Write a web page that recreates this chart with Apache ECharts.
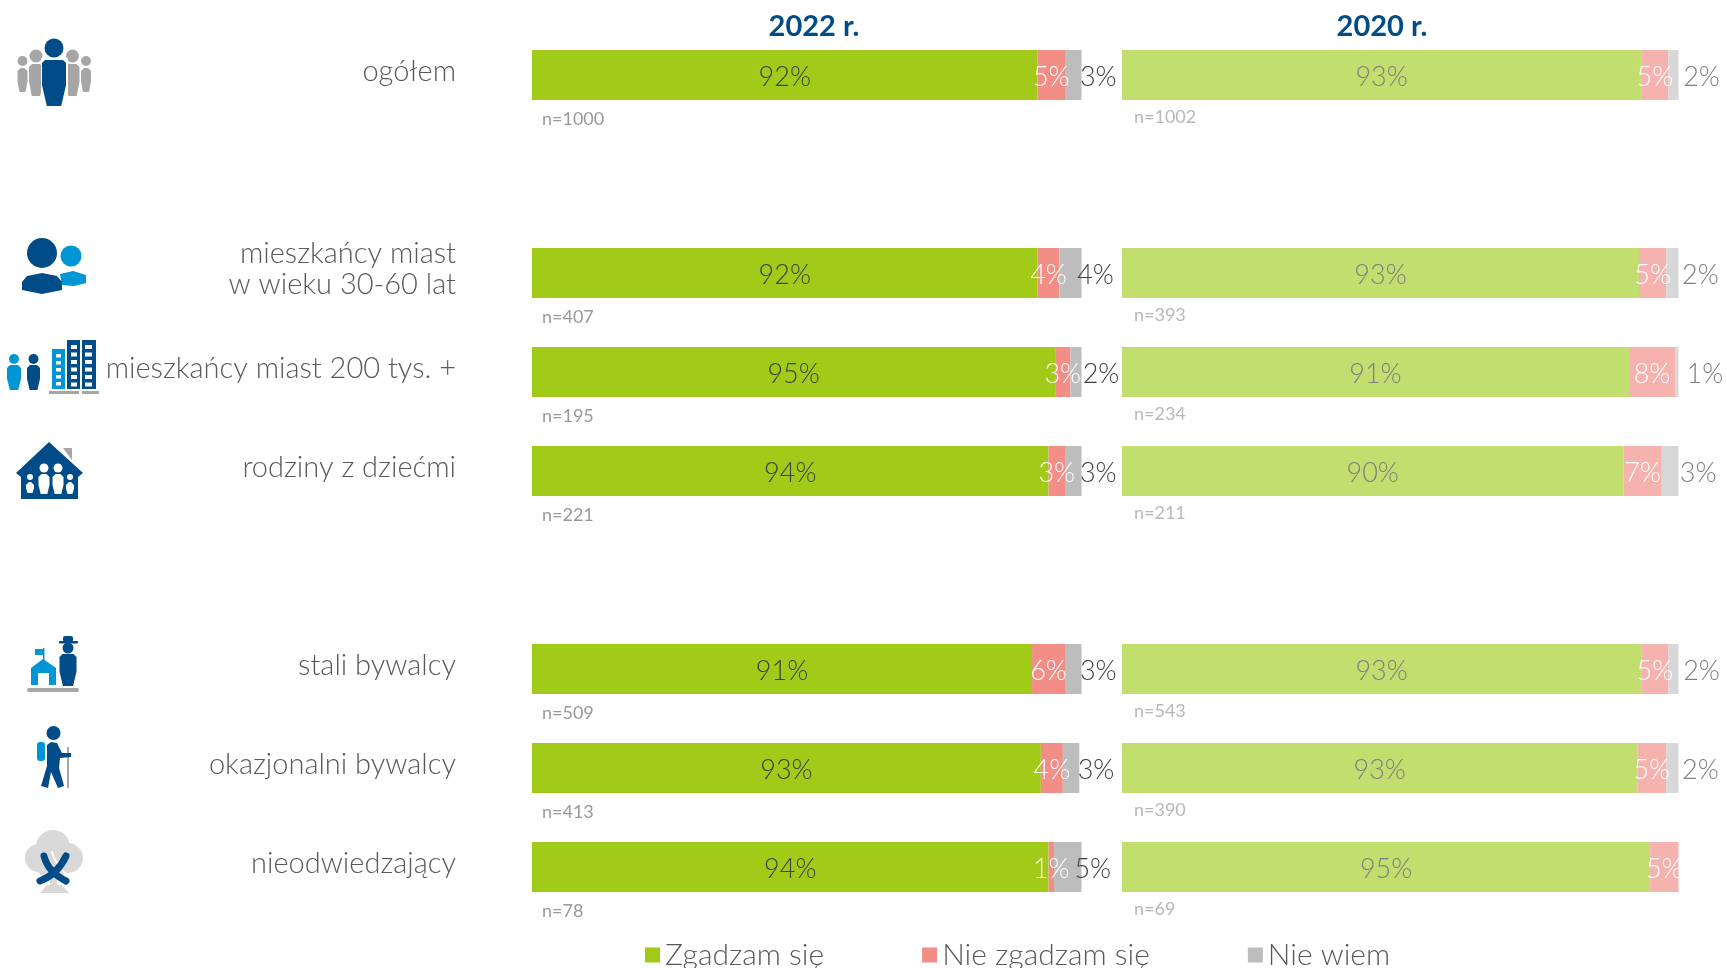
<!DOCTYPE html>
<html>
<head>
<meta charset="utf-8">
<title>2022 r. / 2020 r.</title>
<script src="https://cdn.jsdelivr.net/npm/echarts@6/dist/echarts.min.js"></script>
<style>
html,body{margin:0;padding:0;background:#fff;}
#main{width:1727px;height:968px;}
</style>
</head>
<body>
<div id="main"></div>
<script>
var categories=['ogółem','','mieszkańcy miast\nw wieku 30-60 lat','mieszkańcy miast 200 tys. +','rodziny z dziećmi','','stali bywalcy','okazjonalni bywalcy','nieodwiedzający'];
var seriesNames=['Zgadzam się','Nie zgadzam się','Nie wiem'];

var agree2022=[92,null,92,95.2,94,null,91,92.6,94];
var disagree2022=[5,null,4,2.8,3,null,6,4,1];
var unsure2022=[3,null,4,2,3,null,3,3,5];
var n2022=[1000,null,407,195,221,null,509,413,78];

var agree2020=[93.3,null,92.9,91.1,90.1,null,93.3,92.6,94.9];
var disagree2020=[4.9,null,4.9,8.3,6.9,null,4.9,5.2,5.1];
var unsure2020=[1.8,null,2.2,0.6,3,null,1.8,2.2,null];
var n2020=[1002,null,393,234,211,null,543,390,69];

var font='Lato';
var navy='#004C88',sky='#0096D6',grey='#A6A6A6';

function pct(p){
	return Math.round(p.value)+'%';
}

// one stacked series of a panel
function stack(name,idx,data,color,labelColor,dx){
	return {
		type:'bar',name:name,xAxisIndex:idx,yAxisIndex:idx,stack:'p'+idx,
		data:data,barWidth:50,
		itemStyle:{color:color},
		label:{show:true,position:'inside',formatter:pct,color:labelColor,
			fontFamily:font,fontWeight:300,fontSize:27,offset:[dx||0,2]}
	};
}

// invisible points that only carry the n= text under the bars
function sample(idx,values,color,dx,dy){
	var pts=[];
	for(var i=0;i<values.length;i++){
		if(values[i]!=null) pts.push({value:[0,i],n:values[i]});
	}
	return {
		type:'scatter',xAxisIndex:idx,yAxisIndex:idx,data:pts,symbolSize:0,silent:true,
		label:{show:true,position:'right',offset:[dx,dy],color:color,fontFamily:font,fontSize:18,
			formatter:function(p){return 'n='+p.data.n;}}
	};
}

// ---- icons, plain shapes in page pixels
function circle(cx,cy,r,color){
	return {type:'circle',shape:{cx:cx,cy:cy,r:r},style:{fill:color},silent:true};
}
function box(x,y,w,h,color,r){
	return {type:'rect',shape:{x:x,y:y,width:w,height:h,r:r||0},style:{fill:color},silent:true};
}
function poly(points,color){
	return {type:'polygon',shape:{points:points},style:{fill:color},silent:true};
}
function stroke(x1,y1,cx,cy,x2,y2,color,w){
	return {type:'bezierCurve',shape:{x1:x1,y1:y1,x2:x2,y2:y2,cpx1:cx,cpy1:cy},
		style:{stroke:color,lineWidth:w,fill:null,lineCap:'round'},silent:true};
}
// standing figure: head plus a body that narrows to the feet
function person(cx,headY,r,top,bottom,w,color){
	var h=w/2,f=w*0.3,mid=top+(bottom-top)*0.55;
	return [circle(cx,headY,r,color),poly([
		[cx-h+3,top],[cx+h-3,top],[cx+h,top+3],[cx+h,mid],[cx+f,bottom],
		[cx-f,bottom],[cx-h,mid],[cx-h,top+3]
	],color)];
}
function windows(x,y,w,rows,gap){
	var out=[];
	for(var i=0;i<rows;i++) out.push(box(x,y+i*gap,w,gap-3.5,'#fff'));
	return out;
}

function icons(){
	var g=[];
	// ogółem
	g=g.concat(person(22.5,61,5,68,92,10,grey),person(86,61,5,68,92,10,grey),
		person(36,56,6.5,64,96,14,grey),person(72.5,56,6.5,64,96,14,grey),
		[box(41,58,4,40,'#fff'),box(64,58,4,40,'#fff')],
		person(54,48,9.5,60,106,24,navy));
	// mieszkańcy miast 30-60
	g.push(circle(71,256,10.5,sky));
	g.push(poly([[60,274],[73,271],[86,275],[86,283],[74,286],[62,285]],sky));
	g.push(circle(42,253,15,navy));
	g.push(poly([[22,282],[27,276],[42,273],[57,276],[62,282],[62,290],[42,294],[22,290]],navy));
	// mieszkańcy miast 200 tys.
	g=g.concat(person(14,359,5,365,390,14,sky),person(33.5,359,5,365,390,13,navy));
	g.push(box(52,349,13,40,sky),box(67,340,13,49,navy),box(82,340,14,49,navy));
	g=g.concat(windows(56,354,5,5,7),windows(71,345,6,6,7.5),windows(85,345,7,6,7.5));
	g.push(box(49,391,30,3,grey),box(82,391,17,3,grey));
	// rodziny z dziećmi
	g.push(poly([[63,448],[72,448],[72,460]],grey));
	g.push(poly([[49,442],[83,473],[78,477],[78,499],[21,499],[21,477],[16,473]],navy));
	g=g.concat(person(30,477,3,482,493,8,'#fff'),person(44,468,4.5,474,494,11,'#fff'),
		person(58,468,4.5,474,494,11,'#fff'),person(70,477,3,482,494,8,'#fff'));
	// stali bywalcy
	g.push(box(43,648,1.5,14,sky),box(35,649,9,6,sky));
	g.push(poly([[43,659],[56,668],[56,685],[31,685],[31,668]],sky));
	g.push(box(38,673,11,12,'#fff'));
	g.push(box(27,688,52,4,grey,2));
	g.push(box(59,641,19,2.5,navy,1),box(63,636,10,6,navy,2));
	g=g.concat(person(68,648,5.5,654,686,17,navy));
	// okazjonalni bywalcy
	g.push(box(37,742,8,19,sky,3));
	g.push(box(67,747,2,41,grey));
	g.push(circle(53.5,733,7,navy));
	g.push(poly([[47,745],[51,742],[57,743],[62,753],[71,753],[71,757],[60,758],[59,768],[64,786],[58,788],[51,772],[48,788],[41,786],[47,766]],navy));
	// nieodwiedzający
	g.push(circle(53,847,17,'#D9D9D9'),circle(39,858,14,'#D9D9D9'),circle(68,858,15,'#D9D9D9'),circle(53,862,18,'#D9D9D9'));
	g.push(box(50,872,7,14,'#D9D9D9'));
	g.push(poly([[40,893],[69,893],[62,885],[47,885]],'#D9D9D9'));
	g.push(stroke(52,852,56,866,66,874,'#fff',2));
	g.push(stroke(44,856,48,872,66,881,navy,7));
	g.push(stroke(66,856,58,874,40,881,navy,7));
	return g;
}

var chart=echarts.init(document.getElementById('main'),null,{renderer:'canvas'});
chart.setOption({
	animation:false,
	backgroundColor:'#fff',
	textStyle:{fontFamily:font},
	title:[
		{text:'2022 r.',left:809,top:7,textAlign:'center',textStyle:{color:navy,fontFamily:font,fontWeight:'bold',fontSize:29}},
		{text:'2020 r.',left:1377,top:7,textAlign:'center',textStyle:{color:navy,fontFamily:font,fontWeight:'bold',fontSize:29}}
	],
	legend:{
		data:seriesNames,left:640,top:935,itemWidth:15,itemHeight:15,itemGap:98,icon:'rect',
		selectedMode:false,
		textStyle:{color:'#595959',fontFamily:font,fontWeight:300,fontSize:30}
	},
	// third grid only holds the row names, they sit a little above the bar centres
	grid:[
		{left:532,width:549.5,top:25.5,height:891},
		{left:1122,width:556.5,top:25.5,height:891},
		{left:532,width:549.5,top:22,height:891}
	],
	xAxis:[
		{gridIndex:0,type:'value',min:0,max:100,show:false},
		{gridIndex:1,type:'value',min:0,max:100,show:false},
		{gridIndex:2,type:'value',min:0,max:100,show:false}
	],
	yAxis:[
		{gridIndex:0,type:'category',inverse:true,data:categories,show:false},
		{gridIndex:1,type:'category',inverse:true,data:categories,show:false},
		{gridIndex:2,type:'category',inverse:true,data:categories,
			axisLine:{show:false},axisTick:{show:false},
			axisLabel:{margin:76,align:'right',color:'#595959',fontFamily:font,fontWeight:300,fontSize:29,lineHeight:31}}
	],
	series:[
		stack(seriesNames[0],0,agree2022,'#A1CB18','#404040'),
		stack(seriesNames[1],0,disagree2022,'#F28E86','#fff'),
		stack(seriesNames[2],0,unsure2022,'#BDBDBD','#404040',25),
		sample(0,n2022,'#7F7F7F',5,44),
		stack(seriesNames[0],1,agree2020,'#C2DE6E','#7F7F7F'),
		stack(seriesNames[1],1,disagree2020,'#F5B2AE','#fff'),
		stack(seriesNames[2],1,unsure2020,'#D7D7D7','#7F7F7F',28),
		sample(1,n2020,'#A6A6A6',7,42)
	],
	graphic:{elements:icons()}
});
</script>
</body>
</html>
